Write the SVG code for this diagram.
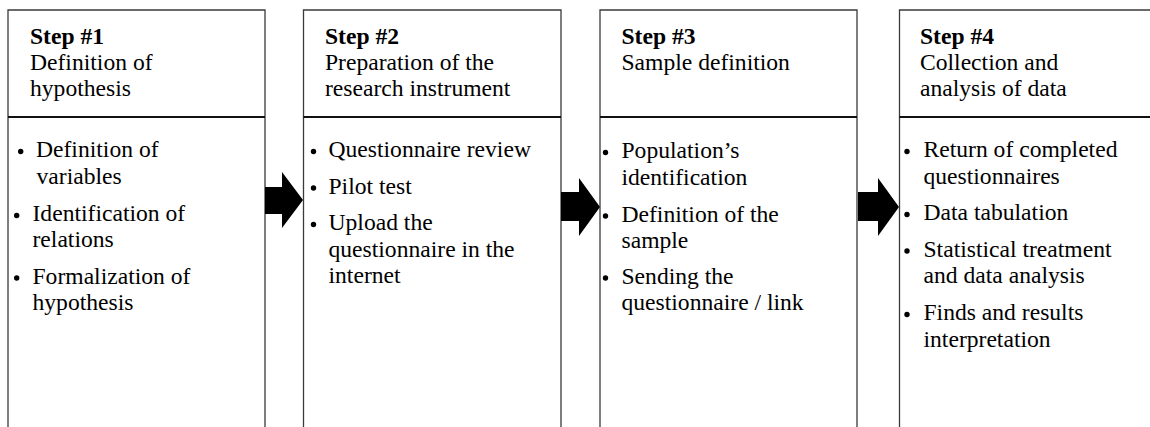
<svg xmlns="http://www.w3.org/2000/svg" width="1150" height="427" viewBox="0 0 1150 427">
<style>
.box{fill:#fff;stroke:#3a3a3a;stroke-width:1.3}
.div{stroke:#111;stroke-width:2}
text{font-family:"Liberation Serif","Times New Roman",serif;font-size:23.6px;fill:#000}
.b{font-weight:bold}
.dot{fill:#000}
.arr{fill:#000}
</style>
<rect width="1150" height="427" fill="#fff"/>
<g id="step1">
<path class="box" d="M8,440 V10 H265 V440"/>
<line class="div" x1="8" y1="117" x2="265" y2="117"/>
<text class="b" x="30" y="44">Step #1</text>
<text x="30" y="70">Definition of</text>
<text x="30" y="96">hypothesis</text>
<circle class="dot" cx="20.7" cy="151.5" r="2.7"/>
<text x="36" y="157">Definition of</text>
<text x="36.5" y="184">variables</text>
<circle class="dot" cx="16.7" cy="215.5" r="2.7"/>
<text x="32.5" y="221">Identification of</text>
<text x="32.5" y="247">relations</text>
<circle class="dot" cx="16.7" cy="278" r="2.7"/>
<text x="32.5" y="283.5">Formalization of</text>
<text x="32.5" y="310">hypothesis</text>
</g>
<g id="step2">
<path class="box" d="M303.5,440 V10 H561 V440"/>
<line class="div" x1="303.5" y1="117" x2="561" y2="117"/>
<text class="b" x="325" y="44">Step #2</text>
<text x="325" y="70">Preparation of the</text>
<text x="325" y="96">research instrument</text>
<circle class="dot" cx="313.5" cy="151.5" r="2.7"/>
<text x="328.5" y="157">Questionnaire review</text>
<circle class="dot" cx="313.5" cy="188" r="2.7"/>
<text x="328.5" y="193.5">Pilot test</text>
<circle class="dot" cx="313.5" cy="224.5" r="2.7"/>
<text x="328.5" y="230">Upload the</text>
<text x="328.5" y="256.5">questionnaire in the</text>
<text x="328.5" y="283">internet</text>
</g>
<g id="step3">
<path class="box" d="M600,440 V10 H857 V440"/>
<line class="div" x1="600" y1="117" x2="857" y2="117"/>
<text class="b" x="621.5" y="44">Step #3</text>
<text x="621.5" y="70">Sample definition</text>
<circle class="dot" cx="605.5" cy="152.5" r="2.7"/>
<text x="621.5" y="158">Population’s</text>
<text x="621.5" y="185">identification</text>
<circle class="dot" cx="605.5" cy="216" r="2.7"/>
<text x="621.5" y="221.5">Definition of the</text>
<text x="621.5" y="247.5">sample</text>
<circle class="dot" cx="605.5" cy="278" r="2.7"/>
<text x="621.5" y="283.5">Sending the</text>
<text x="621.5" y="310">questionnaire / link</text>
</g>
<g id="step4">
<path class="box" d="M899.5,440 V10 H1160 V440"/>
<line class="div" x1="899.5" y1="117" x2="1160" y2="117"/>
<text class="b" x="920" y="44">Step #4</text>
<text x="920" y="70">Collection and</text>
<text x="920" y="96">analysis of data</text>
<circle class="dot" cx="907" cy="151.5" r="2.7"/>
<text x="923.5" y="157">Return of completed</text>
<text x="923.5" y="183.5">questionnaires</text>
<circle class="dot" cx="907" cy="214.5" r="2.7"/>
<text x="923.5" y="220">Data tabulation</text>
<circle class="dot" cx="907" cy="251" r="2.7"/>
<text x="923.5" y="256.5">Statistical treatment</text>
<text x="923.5" y="283">and data analysis</text>
<circle class="dot" cx="907" cy="314.5" r="2.7"/>
<text x="923.5" y="320">Finds and results</text>
<text x="923.5" y="346.5">interpretation</text>
</g>
<g id="connectors">
<polygon class="arr" points="265,187 282,187 282,172 303,200 282,228 282,214 265,214"/>
<polygon class="arr" points="561,192 579,192 579,178 600,207 579,236 579,221 561,221"/>
<polygon class="arr" points="858,192 878,192 878,178 899,207 878,236 878,221 858,221"/>
</g>
</svg>
